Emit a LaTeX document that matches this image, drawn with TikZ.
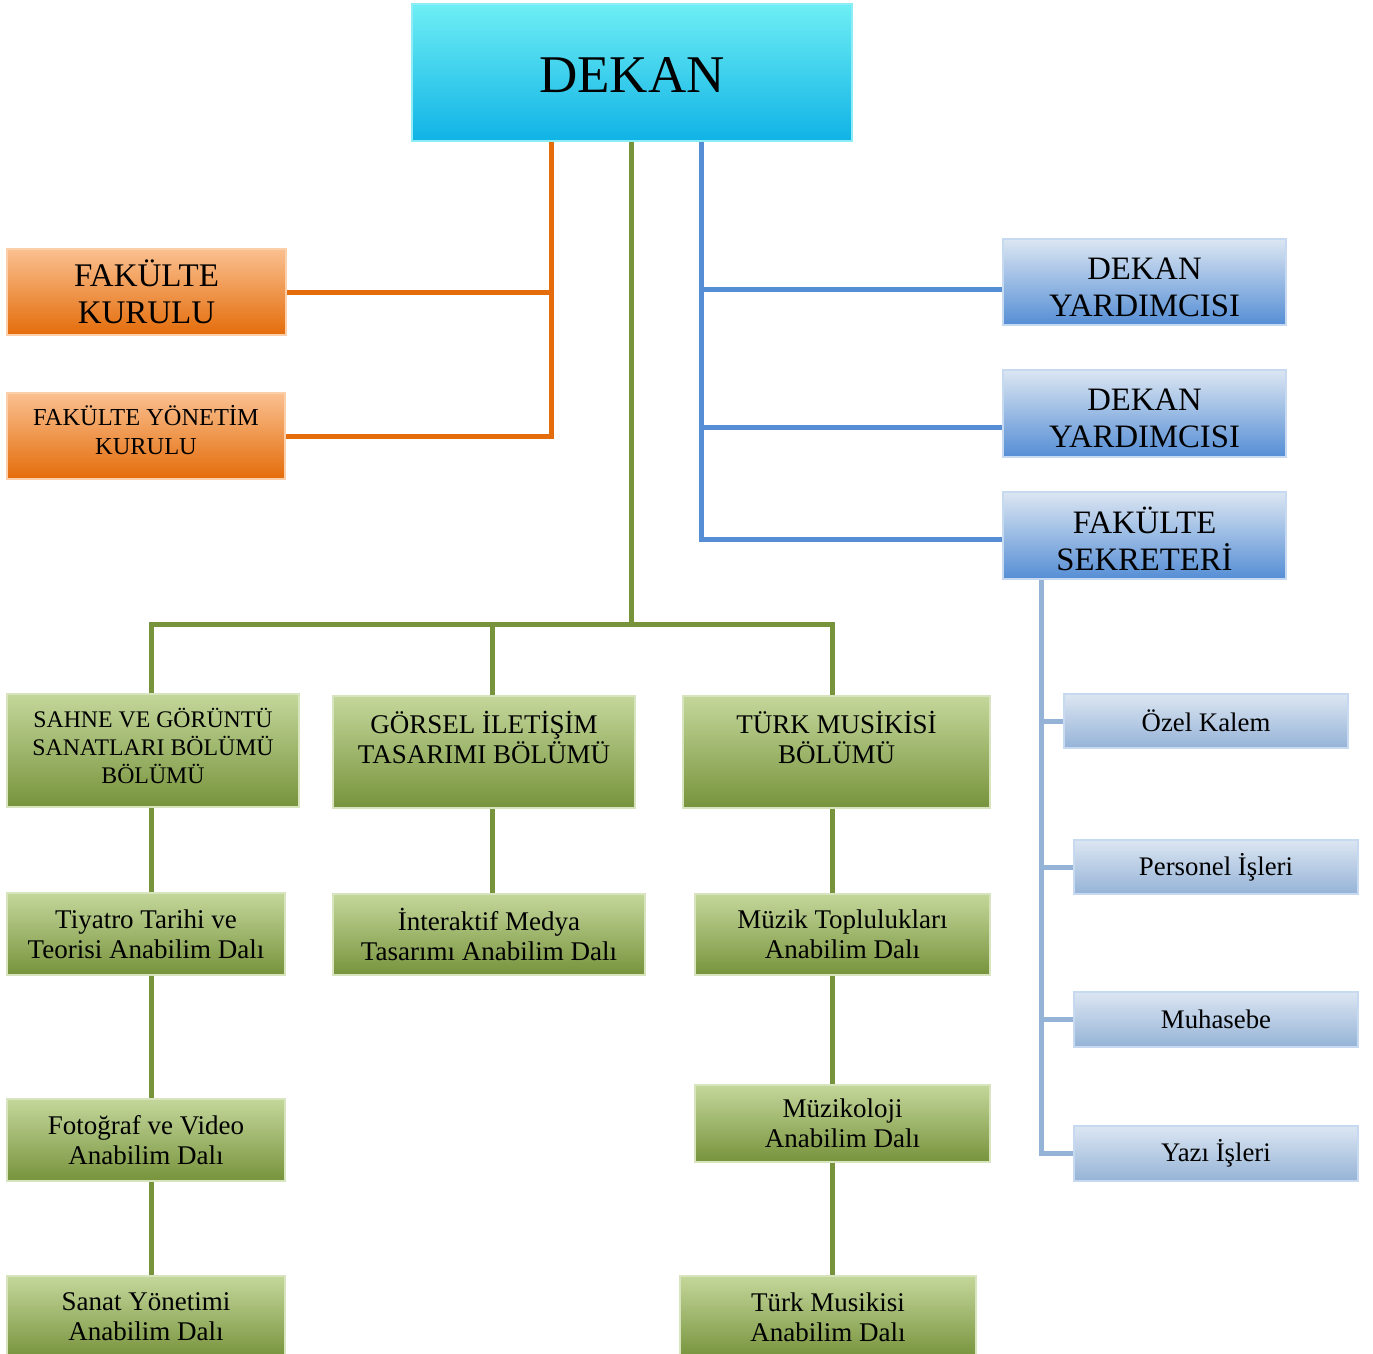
\documentclass[tikz,border=0pt]{standalone}
\usepackage{fontspec}
\setmainfont{Liberation Serif}

\definecolor{dktop}{HTML}{6EEEF4}
\definecolor{dkbot}{HTML}{10B3E6}
\definecolor{dkline}{HTML}{8CEDF6}
\definecolor{ortop}{HTML}{FAC090}
\definecolor{orbot}{HTML}{E46C0A}
\definecolor{orline}{HTML}{FBCFAA}
\definecolor{grtop}{HTML}{C4D79B}
\definecolor{grbot}{HTML}{77933C}
\definecolor{grline}{HTML}{D7E4BD}
\definecolor{bltop}{HTML}{DCE6F2}
\definecolor{blbot}{HTML}{558ED5}
\definecolor{lbbot}{HTML}{95B3D7}
\definecolor{blline}{HTML}{C6D9F1}

\begin{document}
\begin{tikzpicture}[x=1pt,y=-1pt,
  box/.style={draw, line width=2pt, align=center, inner sep=0pt},
  dekanbox/.style={box, draw=dkline, top color=dktop, bottom color=dkbot},
  obox/.style={box, draw=orline, top color=ortop, bottom color=orbot},
  gbox/.style={box, draw=grline, top color=grtop, bottom color=grbot,
    font=\fontsize{27}{30}\selectfont},
  bbox/.style={box, draw=blline, top color=bltop, bottom color=blbot,
    font=\fontsize{32.7}{37}\selectfont},
  lbox/.style={box, draw=blline, top color=bltop, bottom color=lbbot,
    font=\fontsize{26.8}{30}\selectfont},
  oline/.style={line width=5pt, orbot},
  gline/.style={line width=5pt, grbot},
  bline/.style={line width=5pt, blbot},
  lline/.style={line width=5pt, lbbot}]
  \useasboundingbox (0,0) rectangle (1373,1354);

  % dekan
  \node[dekanbox, minimum width=440, minimum height=137, text height=41pt,
    font=\fontsize{53}{60}\selectfont] (dekan) at (632,72.5) {DEKAN};

  % kurullar
  \node[obox, minimum width=279, minimum height=86,
    font=\fontsize{33}{37}\selectfont] (fk) at (146.5,292) {FAKÜLTE\\KURULU};
  \node[obox, minimum width=278, minimum height=86, text depth=12pt,
    font=\fontsize{24.4}{29}\selectfont] (fyk) at (146,436) {FAKÜLTE YÖNETİM\\KURULU};

  % yardimcilar ve sekreter
  \node[bbox, minimum width=283, minimum height=86, text height=69pt] (dy1) at (1144.5,282) {DEKAN\\YARDIMCISI};
  \node[bbox, minimum width=283, minimum height=87, text height=69pt] (dy2) at (1144.5,413.5) {DEKAN\\YARDIMCISI};
  \node[bbox, minimum width=283, minimum height=87, text height=71pt] (fs) at (1144.5,535.5) {FAKÜLTE\\SEKRETERİ};

  % bolumler
  \node[gbox, minimum width=292, minimum height=113, text depth=10pt,
    font=\fontsize{23.8}{28}\selectfont] (sahne) at (153,750.5)
    {SAHNE VE GÖRÜNTÜ\\SANATLARI BÖLÜMÜ\\BÖLÜMÜ};
  \node[gbox, minimum width=302, minimum height=112] (gorsel) at (484,752)
    {GÖRSEL İLETİŞİM\\TASARIMI BÖLÜMÜ\\\mbox{}};
  \node[gbox, minimum width=307, minimum height=112] (turk) at (836.5,752)
    {TÜRK MUSİKİSİ\\BÖLÜMÜ\\\mbox{}};

  % anabilim dallari
  \node[gbox, minimum width=278, minimum height=82] (tiyatro) at (146,934) {Tiyatro Tarihi ve\\Teorisi Anabilim Dalı};
  \node[gbox, minimum width=278, minimum height=82] (fotograf) at (146,1140) {Fotoğraf ve Video\\Anabilim Dalı};
  \node[gbox, minimum width=278, minimum height=82] (sanat) at (146,1317) {Sanat Yönetimi\\Anabilim Dalı};
  \node[gbox, minimum width=312, minimum height=81] (interaktif) at (489,934.5) {İnteraktif Medya\\Tasarımı Anabilim Dalı};
  \node[gbox, minimum width=295, minimum height=81] (muzik) at (842.5,934.5) {Müzik Toplulukları\\Anabilim Dalı};
  \node[gbox, minimum width=295, minimum height=77] (muzikoloji) at (842.5,1123.5) {Müzikoloji\\Anabilim Dalı};
  \node[gbox, minimum width=296, minimum height=82] (turkmus) at (828,1317) {Türk Musikisi\\Anabilim Dalı};

  % sekreterlik birimleri
  \node[lbox, minimum width=284, minimum height=54] (ozel) at (1206,721) {Özel Kalem};
  \node[lbox, minimum width=284, minimum height=54] (personel) at (1216,867) {Personel İşleri};
  \node[lbox, minimum width=284, minimum height=55] (muhasebe) at (1216,1019.5) {Muhasebe};
  \node[lbox, minimum width=284, minimum height=55] (yazi) at (1216,1153.5) {Yazı İşleri};

  % orange lines
  \coordinate (obus) at (551,0);
  \draw[oline] (obus |- dekan.south) |- (fyk.east);
  \draw[oline] (fk.east) -- (fk.east -| obus);

  % blue lines
  \coordinate (bbus) at (701,0);
  \draw[bline] (bbus |- dekan.south) |- ([yshift=-3.5]fs.west);
  \draw[bline] ([yshift=-7]dy1.west) -- ([yshift=-7]dy1.west -| bbus);
  \draw[bline] ([yshift=-14]dy2.west) -- ([yshift=-14]dy2.west -| bbus);

  % light blue lines
  \coordinate (lbus) at (1041,0);
  \draw[lline] (lbus |- fs.south) |- (yazi.west);
  \draw[lline] (ozel.west) -- (ozel.west -| lbus);
  \draw[lline] (personel.west) -- (personel.west -| lbus);
  \draw[lline] (muhasebe.west) -- (muhasebe.west -| lbus);

  % green lines
  \coordinate (gbus) at (631,624);
  \coordinate (sbus) at (151,624);
  \coordinate (mbus) at (492,624);
  \coordinate (tbus) at (832,624);
  \draw[gline] (gbus |- dekan.south) -- (gbus);
  \draw[gline] (sbus |- sahne.north) -- (sbus) -- (tbus) -- (tbus |- turk.north);
  \draw[gline] (mbus) -- (mbus |- gorsel.north);
  \draw[gline] (sbus |- sahne.south) -- (sbus |- tiyatro.north);
  \draw[gline] (sbus |- tiyatro.south) -- (sbus |- fotograf.north);
  \draw[gline] (sbus |- fotograf.south) -- (sbus |- sanat.north);
  \draw[gline] (mbus |- gorsel.south) -- (mbus |- interaktif.north);
  \draw[gline] (tbus |- turk.south) -- (tbus |- muzik.north);
  \draw[gline] (tbus |- muzik.south) -- (tbus |- muzikoloji.north);
  \draw[gline] (tbus |- muzikoloji.south) -- (tbus |- turkmus.north);
\end{tikzpicture}
\end{document}
